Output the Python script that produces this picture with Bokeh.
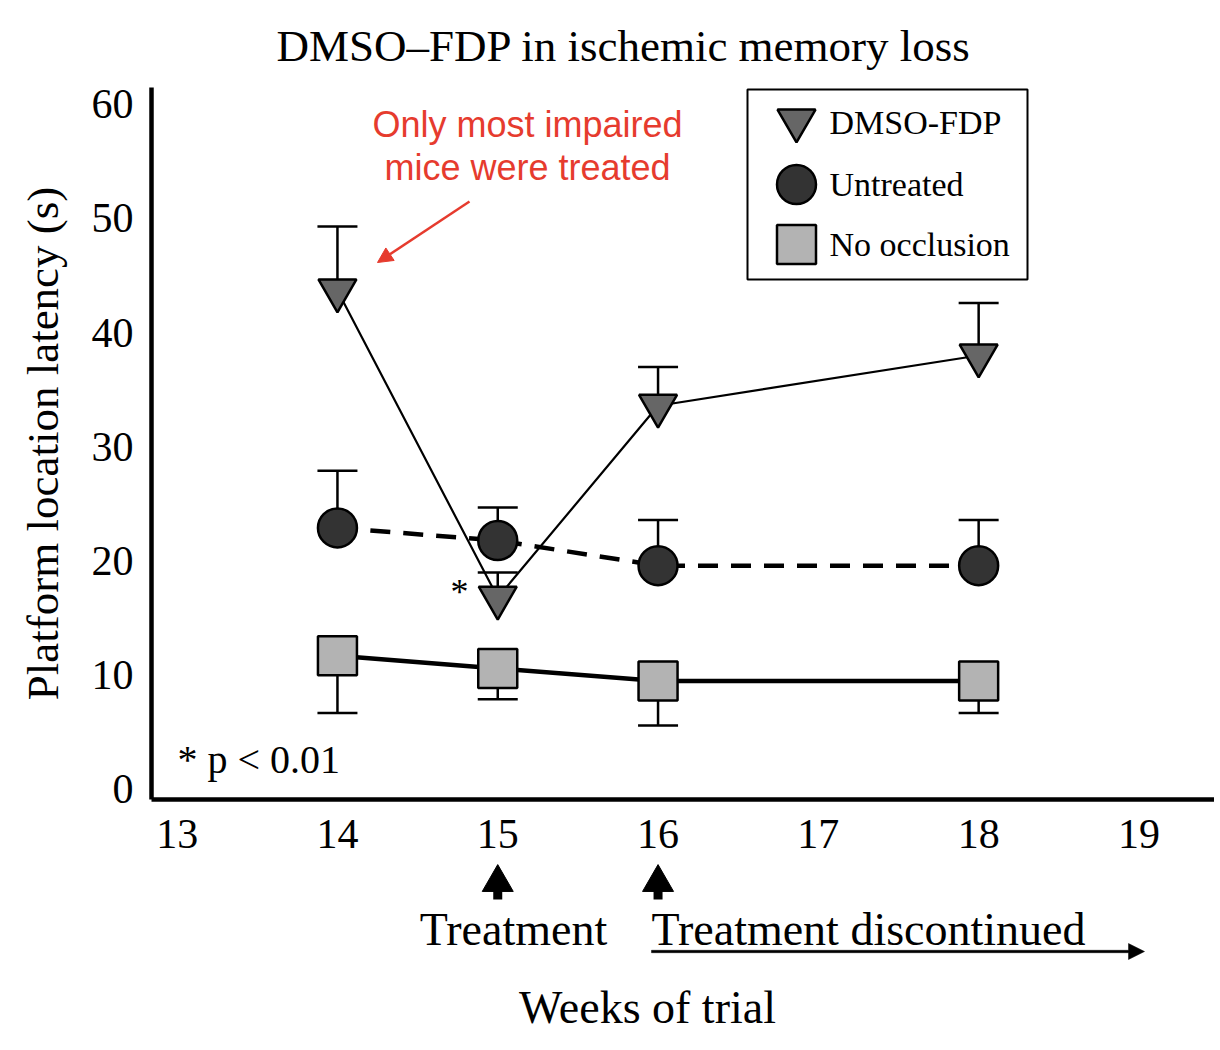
from bokeh.plotting import figure
from bokeh.layouts import column
from bokeh.models import (Range1d, FixedTicker, Label, Arrow, NormalHead,
                          BoxAnnotation, PolyAnnotation)
from bokeh.embed import file_html
from bokeh.resources import INLINE

# ---------------- data ----------------
weeks = [14, 15, 16, 18]
dmso = [43.7, 16.8, 33.6, 38.0]
dmso_err = [5.6, 2.2, 3.4, 4.6]
untreated = [22.9, 21.8, 19.6, 19.6]
untreated_err = [5.0, 2.9, 4.0, 4.0]
no_occl = [11.7, 10.6, 9.5, 9.5]
no_occl_err = [5.0, 2.7, 3.9, 2.8]
x_ticks = [13, 14, 15, 16, 17, 18, 19]
y_ticks = [0, 10, 20, 30, 40, 50, 60]
treat_weeks = [15, 16]
series_names = ["DMSO-FDP", "Untreated", "No occlusion"]
title_text = "DMSO\u2013FDP in ischemic memory loss"

# ---------------- layout ----------------
W = 1214
FL, FT, FR, FB = 151, 87, 0, 62
H = FT + 712 + FB       # main figure
H2 = 1040 - H           # strip below the axis
FW = W - FL - FR
FH = H - FT - FB
X0 = 12.84
X1 = X0 + FW / 160.3
Y0, Y1 = -0.88, 61.47
SERIF = "Liberation Serif"


def dx(s):
    return X0 + s / FW * (X1 - X0)


def dy(s):
    return Y0 + s / FH * (Y1 - Y0)


# ---------------- main plot ----------------
p = figure(width=W, height=H, x_range=Range1d(X0, X1), y_range=Range1d(Y0, Y1),
           output_backend="svg", toolbar_location=None,
           min_border_left=FL, min_border_right=FR, min_border_top=FT,
           min_border_bottom=FB, title=title_text)
p.outline_line_color = None
p.grid.visible = False

p.title.align = "left"
p.title.offset = 125
p.title.standoff = 34
p.title.text_font = SERIF
p.title.text_font_size = "45px"
p.title.text_font_style = "normal"
p.title.text_color = "black"

for ax in (p.xaxis, p.yaxis):
    ax.axis_line_width = 4.5
    ax.axis_line_color = "black"
    ax.major_tick_line_color = None
    ax.minor_tick_line_color = None
    ax.major_label_text_font = SERIF
    ax.major_label_text_font_size = "42px"
    ax.major_label_text_color = "black"
    ax.axis_label_text_font = SERIF
    ax.axis_label_text_font_size = "45px"
    ax.axis_label_text_font_style = "normal"
    ax.axis_label_text_color = "black"

p.xaxis.ticker = FixedTicker(ticks=x_ticks)
p.yaxis.ticker = FixedTicker(ticks=y_ticks)
p.xaxis.major_label_standoff = 14
p.yaxis.major_label_standoff = 12
p.yaxis.axis_label = "Platform location latency (s)"
p.yaxis.axis_label_standoff = 21

# legend box (drawn under the data)
p.add_layout(BoxAnnotation(left=596, right=876, top=710, bottom=520,
                           left_units="screen", right_units="screen",
                           top_units="screen", bottom_units="screen",
                           fill_color="white", fill_alpha=1.0, line_color="black",
                           line_alpha=1.0, line_width=2, level="underlay"))

# lines
p.line(weeks, no_occl, line_color="black", line_width=4.5)
p.line(weeks, untreated, line_color="black", line_width=4.5, line_dash="20 13")
p.line(weeks, dmso, line_color="black", line_width=2.2)

# error bars
dmso_top = [v + e for v, e in zip(dmso, dmso_err)]
untr_top = [v + e for v, e in zip(untreated, untreated_err)]
occl_bot = [v - e for v, e in zip(no_occl, no_occl_err)]
for vals, ends in ((dmso, dmso_top), (untreated, untr_top), (no_occl, occl_bot)):
    p.segment(x0=weeks, y0=vals, x1=weeks, y1=ends, line_color="black", line_width=2.5)
    p.scatter(weeks, ends, marker="dash", size=40, line_color="black", line_width=2.5)

# markers
styles = [("inverted_triangle", "#666666", 38),
          ("circle", "#333333", 39),
          ("square", "#b3b3b3", 39)]
for vals, (mk, col, sz) in zip((dmso, untreated, no_occl), styles):
    p.scatter(weeks, vals, marker=mk, size=sz, fill_color=col,
              line_color="black", line_width=2.5)

# legend entries
leg_rows = [677, 615, 555]       # screen y of the three rows (from frame bottom)
leg_marker_dy = [2, 0, 0]
for name, row, ddy, (mk, col, sz) in zip(series_names, leg_rows, leg_marker_dy, styles):
    p.scatter([dx(645)], [dy(row + ddy)], marker=mk, size=sz, fill_color=col,
              line_color="black", line_width=2.5)
    p.add_layout(Label(x=678, y=row, x_units="screen", y_units="screen", text=name,
                       text_font=SERIF, text_font_size="34px", text_color="black",
                       text_align="left", text_baseline="middle"))

# annotations inside the plot
red = "#e63b2e"
p.add_layout(Label(x=376, y=675, x_units="screen", y_units="screen",
                   text="Only most impaired", text_font="Liberation Sans",
                   text_font_size="36px", text_color=red, text_align="center",
                   text_baseline="middle"))
p.add_layout(Label(x=376, y=632, x_units="screen", y_units="screen",
                   text="mice were treated", text_font="Liberation Sans",
                   text_font_size="36px", text_color=red, text_align="center",
                   text_baseline="middle"))
p.add_layout(Label(x=26, y=40, x_units="screen", y_units="screen",
                   text="* p < 0.01", text_font=SERIF, text_font_size="40px",
                   text_color="black", text_align="left", text_baseline="alphabetic"))
p.add_layout(Label(x=308, y=208, x_units="screen", y_units="screen",
                   text="*", text_font=SERIF, text_font_size="36px",
                   text_color="black", text_align="center", text_baseline="alphabetic"))
p.add_layout(Arrow(end=NormalHead(size=15, fill_color=red, line_color=red, line_width=1),
                   x_start=318, y_start=598, x_end=226, y_end=537,
                   start_units="screen", end_units="screen",
                   line_color=red, line_width=2.5))

# ---------------- strip below the x axis ----------------
p2 = figure(width=W, height=H2, x_range=p.x_range, y_range=Range1d(0, H2),
            x_axis_type=None, y_axis_type=None, output_backend="svg",
            toolbar_location=None, min_border_left=FL, min_border_right=0,
            min_border_top=0, min_border_bottom=0)
p2.outline_line_color = None
p2.grid.visible = False

# up arrows at the treatment weeks
p2.segment(x0=treat_weeks, y0=[141, 141], x1=treat_weeks, y1=[153, 153],
           line_color="black", line_width=9, line_cap="butt")
p2.scatter(treat_weeks, [158, 158], marker="triangle", size=31,
           fill_color="black", line_color="black", line_width=1)

p2.add_layout(Label(x=362, y=111, x_units="screen", y_units="screen",
                    text="Treatment", text_font=SERIF, text_font_size="46px",
                    text_color="black", text_align="center", text_baseline="middle"))
p2.add_layout(Label(x=500, y=111, x_units="screen", y_units="screen",
                    text="Treatment discontinued", text_font=SERIF,
                    text_font_size="46px", text_color="black", text_align="left",
                    text_baseline="middle"))
p2.add_layout(PolyAnnotation(
    xs=[500, 977, 977, 993, 977, 977, 500],
    ys=[90.2, 90.2, 97, 89, 81, 87.8, 87.8],
    xs_units="screen", ys_units="screen",
    fill_color="black", fill_alpha=1.0, line_color="black", line_alpha=1.0,
    line_width=0.5))
p2.add_layout(Label(x=496, y=33, x_units="screen", y_units="screen",
                    text="Weeks of trial", text_font=SERIF, text_font_size="46px",
                    text_color="black", text_align="center", text_baseline="middle"))

open("out.html", "w").write(file_html(column(p, p2), INLINE))
